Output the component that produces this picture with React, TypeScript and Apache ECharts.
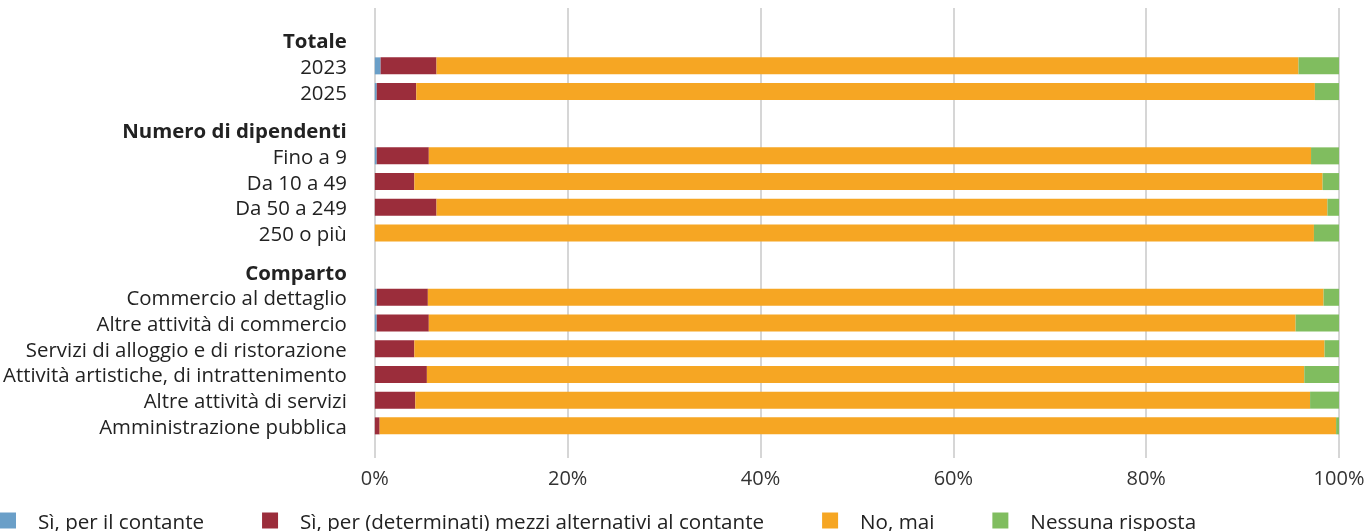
import React, { useEffect, useRef } from "react";
import * as echarts from "echarts";

const groupTitles = ["Totale", "Numero di dipendenti", "Comparto"];
const groupItems = [
  ["2023", "2025"],
  ["Fino a 9", "Da 10 a 49", "Da 50 a 249", "250 o più"],
  [
    "Commercio al dettaglio",
    "Altre attività di commercio",
    "Servizi di alloggio e di ristorazione",
    "Attività artistiche, di intrattenimento",
    "Altre attività di servizi",
    "Amministrazione pubblica",
  ],
];

const seriesNames = [
  "Sì, per il contante",
  "Sì, per (determinati) mezzi alternativi al contante",
  "No, mai",
  "Nessuna risposta",
];
const seriesColors = ["#6a9fc8", "#9b2d3b", "#f6a623", "#80bd5f"];

const contante = [0.6, 0.2, 0.2, 0, 0, 0, 0.2, 0.2, 0, 0, 0, 0];
const alternativi = [5.8, 4.1, 5.4, 4.1, 6.4, 0, 5.3, 5.4, 4.1, 5.4, 4.2, 0.5];
const noMai = [89.4, 93.2, 91.5, 94.2, 92.4, 97.4, 92.9, 89.9, 94.4, 91.0, 92.8, 99.2];
const nessuna = [4.2, 2.5, 2.9, 1.7, 1.2, 2.6, 1.6, 4.5, 1.5, 3.6, 3.0, 0.3];

const xTicks = [0, 20, 40, 60, 80, 100];

const FONT = "Open Sans";

function buildRows() {
  // each category is a half-row; items sit on every second slot
  const rows: { label: string; header: boolean; item: number }[] = [];
  const blank = () => rows.push({ label: "", header: false, item: -1 });
  blank();
  blank();
  let k = 0;
  groupTitles.forEach((title, g) => {
    if (g > 0) {
      blank();
      blank();
    }
    rows.push({ label: title, header: true, item: -1 });
    groupItems[g].forEach((it) => {
      blank();
      rows.push({ label: it, header: false, item: k });
      k++;
    });
  });
  blank();
  blank();
  return rows;
}

export default function App() {
  const ref = useRef<HTMLDivElement>(null);
  useEffect(() => {
    if (!ref.current) return;
    const chart = echarts.init(ref.current, null, { renderer: "svg" });
    const rows = buildRows();
    const values = [contante, alternativi, noMai, nessuna];
    const headerSet = new Set(rows.filter((r) => r.header).map((r) => r.label));
    chart.setOption({
      animation: false,
      textStyle: { fontFamily: FONT },
      grid: { left: 374, right: 30, top: 8, height: 450, containLabel: false },
      legend: {
        left: 0,
        top: 510,
        padding: 0,
        itemWidth: 16,
        itemHeight: 16,
        itemGap: 58,
        icon: "rect",
        data: seriesNames,
        textStyle: {
          fontFamily: FONT,
          fontSize: 20.6,
          color: "#222222",
          padding: [0, 0, 0, 17],
        },
      },
      xAxis: {
        type: "value",
        min: xTicks[0],
        max: xTicks[xTicks.length - 1],
        interval: 20,
        axisLine: { show: false },
        axisTick: { show: false },
        splitLine: { show: true, lineStyle: { color: "#c8c8c8", width: 1.5 } },
        axisLabel: {
          formatter: "{value}%",
          fontFamily: FONT,
          fontSize: 20,
          color: "#333333",
          margin: 9,
        },
      },
      yAxis: {
        type: "category",
        inverse: true,
        data: rows.map((r) => r.label),
        axisLine: { show: false },
        axisTick: { show: false },
        axisLabel: {
          interval: 0,
          margin: 28,
          fontFamily: FONT,
          fontSize: 20.4,
          color: "#222222",
          formatter: (v: string) => (headerSet.has(v) ? `{h|${v}}` : v),
          rich: {
            h: { fontFamily: FONT, fontSize: 20.4, fontWeight: "bold", color: "#222222" },
          },
        },
      },
      series: seriesNames.map((name, s) => ({
        name,
        type: "bar",
        stack: "total",
        barWidth: 17,
        itemStyle: { color: seriesColors[s] },
        data: rows.map((r) => (r.item >= 0 ? values[s][r.item] : "-")),
      })),
    });
    return () => chart.dispose();
  }, []);
  return (
    <div
      ref={ref}
      style={{ position: "fixed", left: 0, top: 0, width: 1369, height: 531 }}
    />
  );
}
